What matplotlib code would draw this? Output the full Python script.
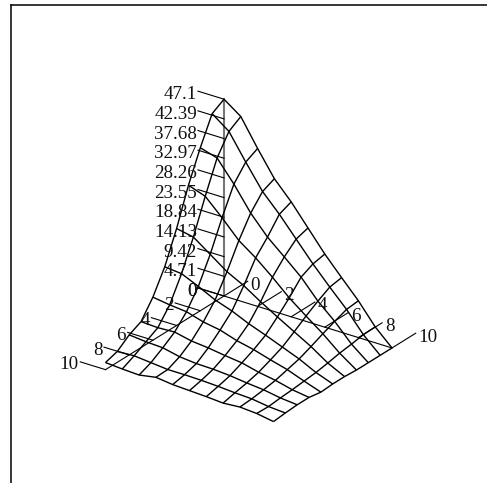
import numpy as np
import matplotlib
matplotlib.use("Agg")
import matplotlib.pyplot as plt
from mpl_toolkits.mplot3d import proj3d

plt.rcParams['font.family'] = ['Liberation Serif', 'DejaVu Serif']

# grid of the surface, x runs along rows and y down the columns
x_vals = [0, 1, 2, 3, 4, 5, 6, 7, 8, 9, 10]
y_vals = [0, 1, 2, 3, 4, 5, 6, 7, 8, 9, 10]
z_vals = [
    [47.1, 44.2, 37.8, 31.8, 27.5, 22.5, 17.5, 13.1, 8.8, 3.8, 0.0],
    [45.4, 42.4, 36.3, 30.5, 26.3, 21.6, 16.9, 12.6, 8.5, 3.7, 0.0],
    [39.0, 37.8, 32.8, 27.1, 22.6, 19.1, 15.5, 11.0, 7.4, 3.2, 0.0],
    [31.8, 30.4, 26.5, 22.3, 19.4, 16.0, 12.3, 9.2, 6.2, 2.8, 0.0],
    [23.2, 22.4, 19.5, 16.6, 14.5, 11.9, 9.5, 7.2, 4.9, 2.2, 0.2],
    [15.8, 15.4, 13.6, 11.6, 10.2, 8.4, 6.9, 5.3, 3.7, 1.7, 0.2],
    [10.3, 9.7, 9.3, 8.1, 7.4, 6.1, 5.2, 4.0, 2.9, 1.4, 0.0],
    [6.2, 6.0, 6.2, 5.3, 4.9, 4.3, 3.8, 2.8, 2.1, 1.1, 0.5],
    [4.8, 4.4, 4.2, 3.3, 2.9, 2.8, 2.5, 2.0, 1.6, 0.9, 0.5],
    [2.6, 2.8, 2.4, 2.0, 2.0, 1.9, 1.7, 1.4, 1.2, 0.6, 0.3],
    [1.7, 1.4, 1.2, 1.9, 1.4, 1.2, 1.0, 0.7, 1.0, 0.7, 0.0],
]
z_ticks = [0, 4.71, 9.42, 14.13, 18.84, 23.55, 28.26, 32.97, 37.68, 42.39, 47.1]
z_labels = ['0', '4.71', '9.42', '14.13', '18.84', '23.55', '28.26', '32.97', '37.68', '42.39', '47.1']
xy_ticks = [0, 2, 4, 6, 8, 10]

fig = plt.figure(figsize=(4.87, 4.83), dpi=100)

# just the left and top border lines
frame = fig.add_axes([11 / 487, 0, 1, 1 - 4.5 / 483])
frame.set_xticks([])
frame.set_yticks([])
frame.spines['right'].set_visible(False)
frame.spines['bottom'].set_visible(False)
frame.spines['left'].set_linewidth(1.1)
frame.spines['top'].set_linewidth(1.1)

ax = fig.add_axes([0, 0, 1, 1], projection='3d', proj_type='ortho')
ax.patch.set_alpha(0)
ax.set_axis_off()
ax.set_xlim(0, 10, view_margin=0)
ax.set_ylim(10, 0, view_margin=0)
ax.set_zlim(0, 47.1, view_margin=0)
ax.view_init(elev=26, azim=-54.8)
ax.set_box_aspect((10, 10, 10.65), zoom=1.0)


def screen_pos(x, y, z):
    # pixel position of a data point on the current view
    px, py, _ = proj3d.proj_transform(x, y, z, ax.get_proj())
    return ax.transData.transform((px, py))


def add_label(x, y, z, text, ha):
    p = screen_pos(x, y, z)
    fig.text(p[0] / 487, p[1] / 483, text, fontsize=13.7, ha=ha, va='center', color='#111111')


# scale and shift the axes so the origin and x end land where they should
fig.canvas.draw()
p0 = screen_pos(0, 0, 0)
p1 = screen_pos(10, 0, 0)
scale = 168.0 / (p1[0] - p0[0])
ax.set_box_aspect((10, 10, 10.65), zoom=scale)
fig.canvas.draw()
p0 = screen_pos(0, 0, 0)
pos = ax.get_position()
ax.set_position([pos.x0 + (224 - p0[0]) / 487, pos.y0 + ((483 - 296) - p0[1]) / 483, pos.width, pos.height])
fig.canvas.draw()

line_kw = dict(color='black', lw=0.8)
X, Y = np.meshgrid(x_vals, y_vals)
Z = np.array(z_vals)
ax.plot_wireframe(X, Y, Z, rstride=1, cstride=1, color='black', linewidth=1.0)

# axis lines
ax.plot([0, 10], [0, 0], [0, 0], **line_kw)
ax.plot([0, 0], [0, 10], [0, 0], **line_kw)
ax.plot([0, 0], [0, 0], [0, 47.1], color='#777777', lw=1.5)

for t, lab in zip(z_ticks, z_labels):
    ax.plot([0, -1.55], [0, 0], [t, t], **line_kw)
    add_label(-1.6, 0, t - 0.95, lab, 'right')

for t in xy_ticks:
    ax.plot([t, t], [0, -2.0], [0, 0], **line_kw)
    add_label(t, -2.25, -1.35, str(t), 'left')
    ax.plot([0, -1.5], [t, t], [0, 0], **line_kw)
    add_label(-1.6, t, -0.85, str(t), 'right')

fig.savefig('out.png', dpi=100)
